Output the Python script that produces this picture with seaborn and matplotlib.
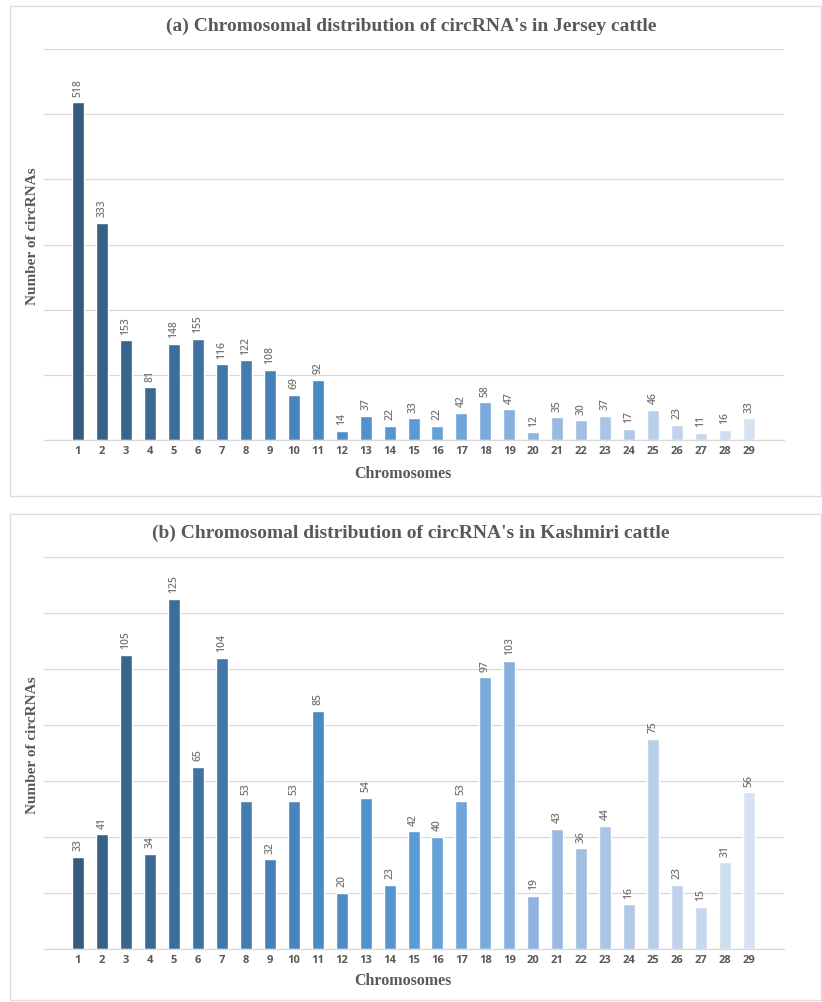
import matplotlib
matplotlib.use("Agg")
import matplotlib.pyplot as plt
from matplotlib.colors import LinearSegmentedColormap
from matplotlib.patches import Rectangle
import seaborn as sns
import pandas as pd
import numpy as np

# Chromosome numbers and circRNA counts per breed
chromosomes = [str(i) for i in range(1, 30)]
jersey_counts = [518, 333, 153, 81, 148, 155, 116, 122, 108, 69, 92, 14, 37, 22,
                 33, 22, 42, 58, 47, 12, 35, 30, 37, 17, 46, 23, 11, 16, 33]
kashmiri_counts = [33, 41, 105, 34, 125, 65, 104, 53, 32, 53, 85, 20, 54, 23,
                   42, 40, 53, 97, 103, 19, 43, 36, 44, 16, 75, 23, 15, 31, 56]

titles = ["(a) Chromosomal distribution of circRNA's in Jersey cattle",
          "(b) Chromosomal distribution of circRNA's in Kashmiri cattle"]
y_limits = [600, 140]
y_steps = [100, 20]

sns.set_theme(style="white")
plt.rcParams["font.family"] = ["DejaVu Sans"]

# Blue gradient running from dark slate blue to pale blue across chromosomes
cmap = LinearSegmentedColormap.from_list(
    "chrom_blues",
    [(0.0, "#335C7F"), (0.36, "#4A8AC4"), (0.5, "#5A9BD5"),
     (0.7, "#97B7DF"), (1.0, "#D6E2F2")])
palette = [cmap(v) for v in np.linspace(0, 1, len(chromosomes))]

W, H = 822, 1002
fig = plt.figure(figsize=(W / 100, H / 100), dpi=100)

grey_text = "#595959"
grid_col = "#D9D9D9"

# panel outlines (pixel coords: x0, y0_top, x1, y1_bottom)
for (x0, y0, x1, y1) in [(10, 6, 821, 496), (10, 514, 821, 1000)]:
    fig.patches.append(Rectangle((x0 / W, 1 - y1 / H), (x1 - x0) / W, (y1 - y0) / H,
                                 transform=fig.transFigure, fill=False,
                                 edgecolor="#DDDDDD", linewidth=1.0))

# axes placement: (left_px, right_px, top_px, bottom_px)
boxes = [(44, 784, 49, 440), (44, 784, 557, 949)]
title_y = [26, 533]
xlabel_y = [474, 981]
series = [jersey_counts, kashmiri_counts]

for k in range(2):
    lx, rx, ty, by = boxes[k]
    ax = fig.add_axes([lx / W, 1 - by / H, (rx - lx) / W, (by - ty) / H])
    df = pd.DataFrame({"chrom": chromosomes, "count": series[k]})
    sns.barplot(data=df, x="chrom", y="count", hue="chrom", palette=palette,
                legend=False, width=0.5, ax=ax, saturation=1.0)
    ax.set_xlim(-1.42, 29.46)
    ax.set_ylim(0, y_limits[k])
    ax.set_yticks(np.arange(0, y_limits[k] + 1, y_steps[k]))
    ax.set_yticklabels([])
    ax.tick_params(axis="y", length=0)
    ax.tick_params(axis="x", length=0, pad=4)
    ax.yaxis.grid(True, color=grid_col, linewidth=0.9)
    ax.set_axisbelow(True)
    for s in ["left", "right", "top"]:
        ax.spines[s].set_visible(False)
    ax.spines["bottom"].set_color(grid_col)
    ax.spines["bottom"].set_linewidth(0.9)
    for lab in ax.get_xticklabels():
        lab.set_fontfamily("Open Sans")
        lab.set_fontweight("bold")
        lab.set_fontsize(8)
        lab.set_color(grey_text)

    for container in ax.containers:
        ax.bar_label(container, labels=[str(int(v)) for v in container.datavalues],
                     rotation=90, padding=4, fontsize=7.5, color="#777777",
                     fontfamily="Open Sans", fontweight="semibold")

    ax.set_xlabel("Chromosomes", fontfamily="Liberation Serif", fontweight="bold",
                  fontsize=11.5, color=grey_text)
    ax.xaxis.set_label_coords((403 - lx) / (rx - lx), -(xlabel_y[k] - by) / (by - ty))
    ax.xaxis.label.set_va("center")
    ax.set_ylabel("Number of circRNAs", fontfamily="Liberation Serif",
                  fontweight="bold", fontsize=11, color=grey_text)
    ax.yaxis.set_label_coords(-(lx - 33) / (rx - lx), 0.52)
    ax.yaxis.label.set_va("center")

    fig.text(0.5, 1 - title_y[k] / H, titles[k], ha="center", va="center",
             fontfamily="Liberation Serif", fontweight="bold", fontsize=14,
             color=grey_text)

fig.savefig("out.png", dpi=100, facecolor="white")
